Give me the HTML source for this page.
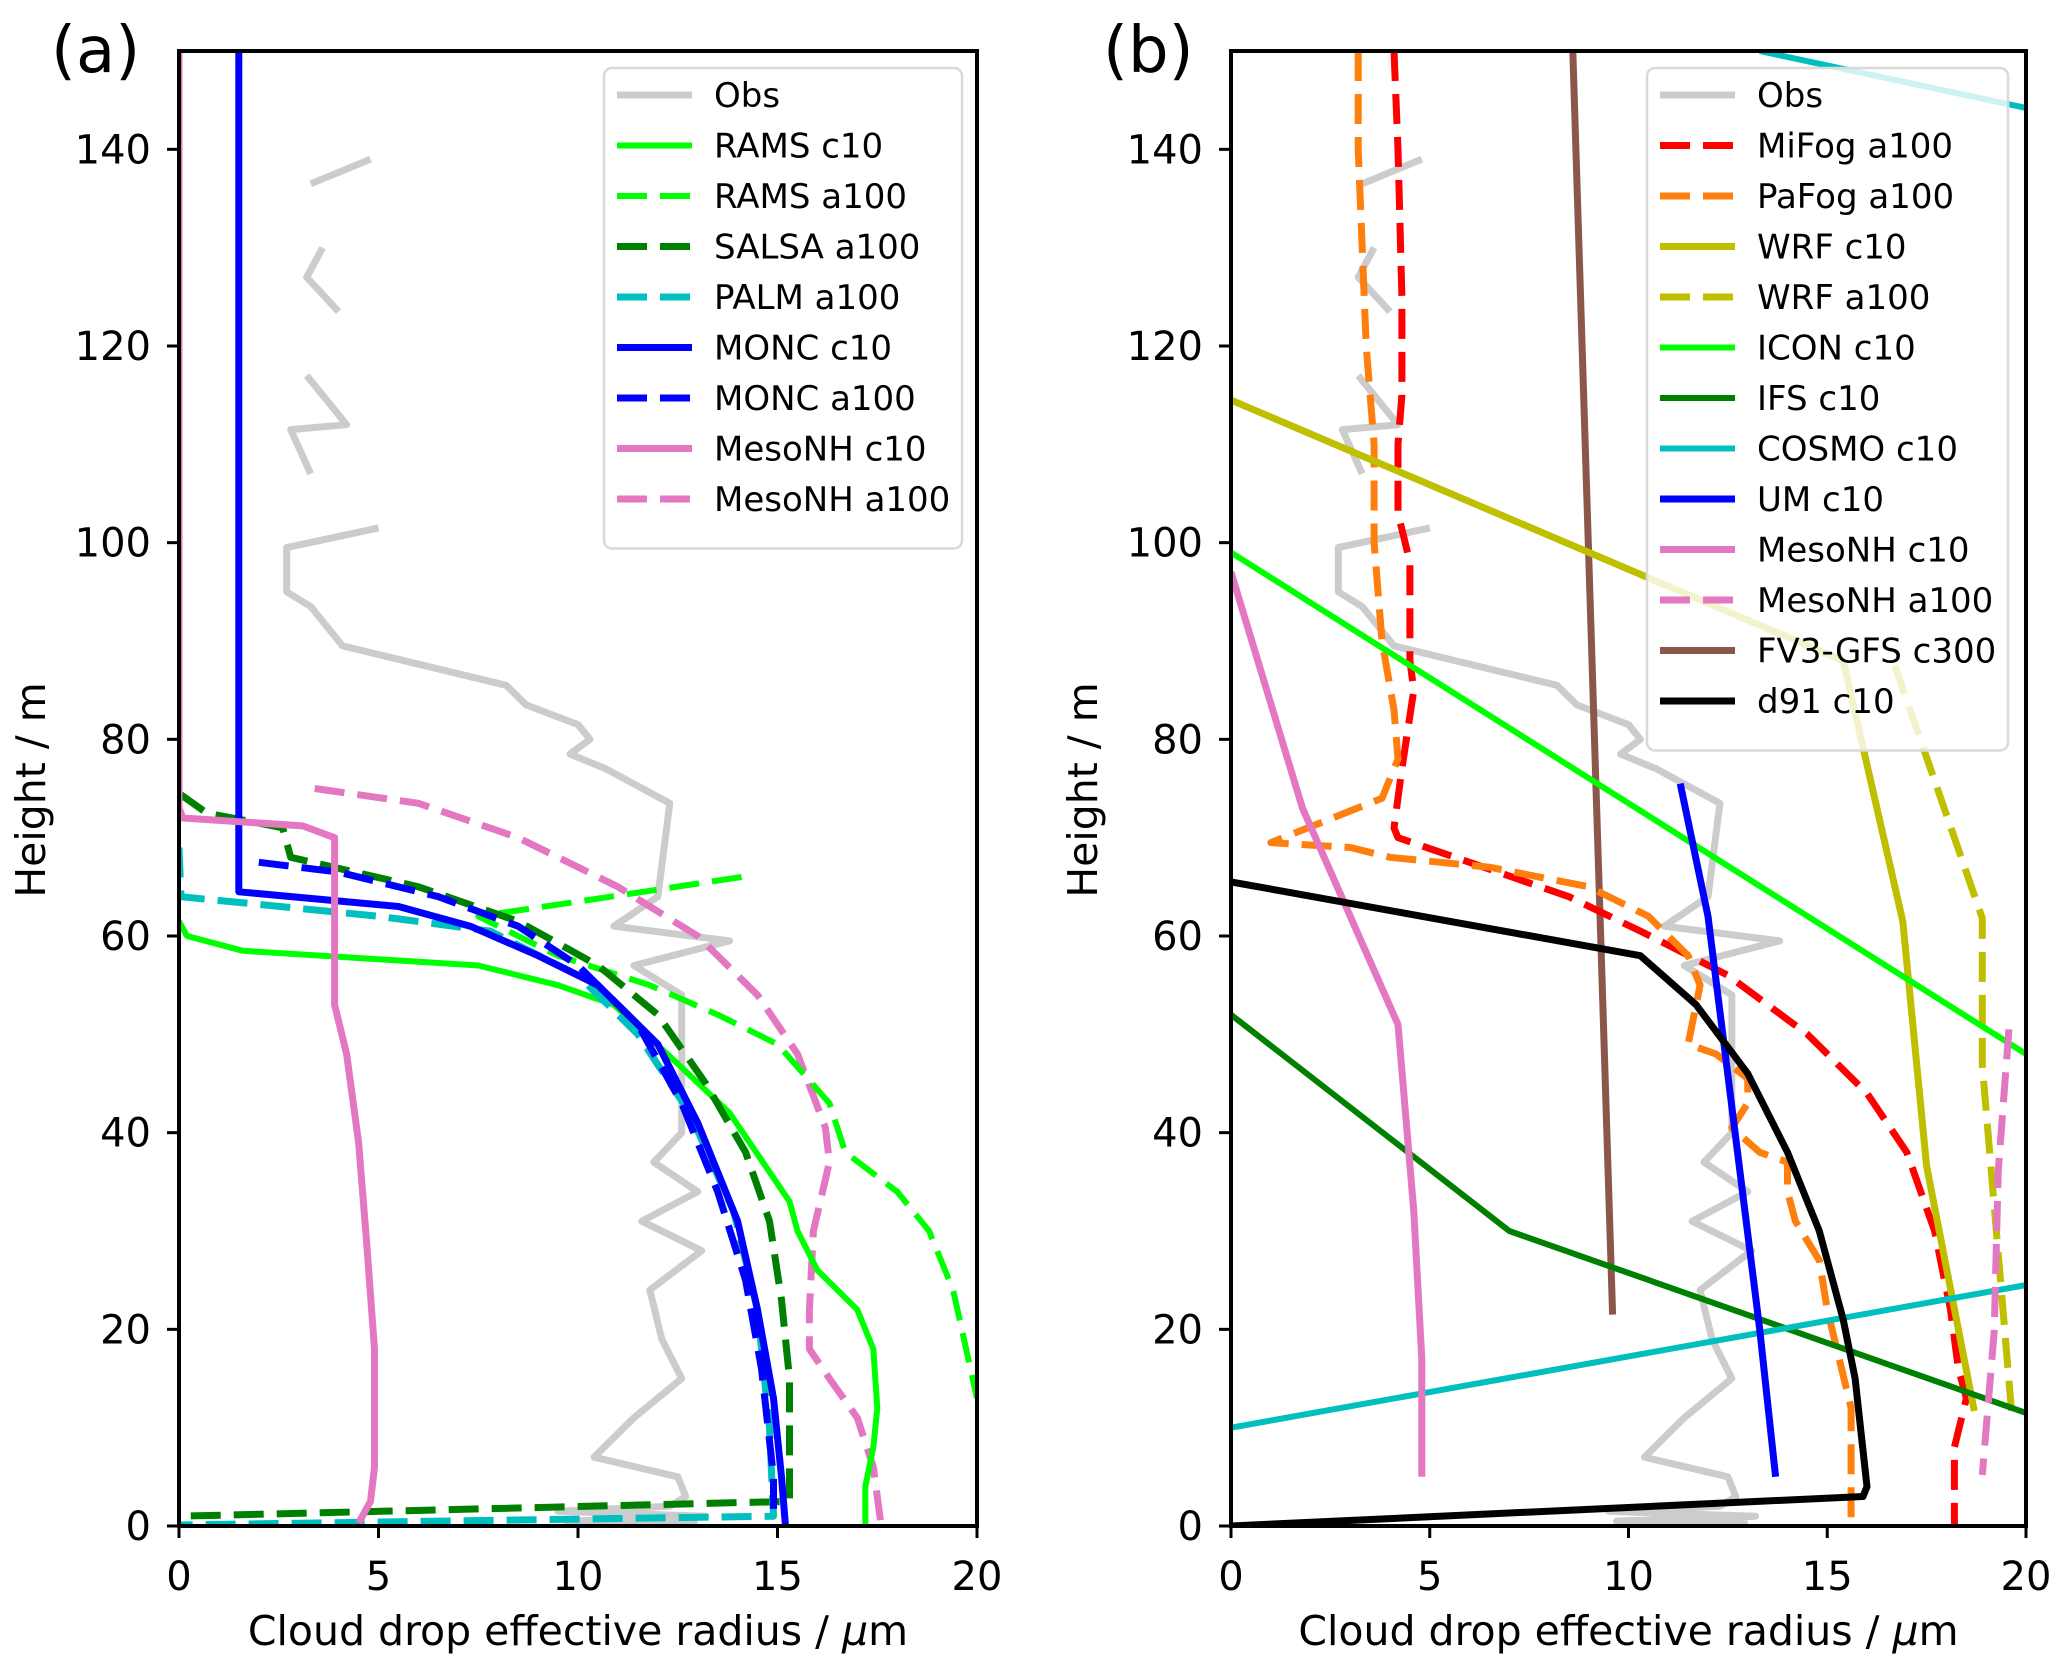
<!DOCTYPE html>
<html><head><meta charset="utf-8"><style>
html,body{margin:0;padding:0;background:#fff;}
svg{display:block;font-family:"DejaVu Sans","Liberation Sans",sans-serif;}
</style></head><body>
<svg id="chart" width="2067" height="1669" viewBox="0 0 2067 1669" xmlns="http://www.w3.org/2000/svg"></svg>
<script>
// ---- data ----
const xTicks=[0,5,10,15,20];
const yTicks=[0,20,40,60,80,100,120,140];
const obsX=[4.8,3.3,null,3.6,3.2,4.0,null,3.2,4.2,2.8,3.3,null,5.0,2.7,2.7,3.3,4.1,8.2,8.7,10.0,10.3,9.8,10.7,12.3,12.0,10.9,13.8,11.4,12.6,12.6,11.9,13.0,11.6,13.1,11.8,12.1,12.6,11.4,10.4,12.5,12.7,12.3,9.5,13.2,9.7,13.0];
const obsY=[139,136.5,null,130,127,123.5,null,117,112,111.5,107,null,101.5,99.5,95,93.5,89.5,85.5,83.5,81.5,80,78.5,77,73.5,64,61,59.5,57,54,40,37,34,31,28,24,19,15,11,7,5,3,2,1.5,1,0.5,0.2];
// panel a
const ramsC10X=[0,0.2,1.6,7.5,9.5,10.9,12.5,13.8,15.3,15.5,16,17,17.4,17.5,17.4,17.2,17.2];
const ramsC10Y=[61.5,60,58.5,57,55,53,47,42,33,30,26,22,18,12,8,4,0];
const ramsA100X=[14.1,10,7.5,9.5,11.8,13.5,15,16.3,16.7,18,18.8,19.4,20];
const ramsA100Y=[66,63.5,62,58,55,52,49,43,38,34,30,24,13];
const salsaX=[0,0.7,2.6,2.8,6,8.5,10.5,12,13.2,14.2,14.8,15.1,15.3,15.3,0];
const salsaY=[74.5,72.5,71,68,65,61.5,57,52,45,38,31,23,15,2.5,1];
const palmX=[0,0.05,5,7.8,10,11.5,12.8,13.9,14.5,14.8,14.9,0];
const palmY=[69,64,62,60.5,56,50,42,32,22,10,1,0.1];
const moncC10X=[1.5,1.5,5.5,7.3,9,10.5,12,13,14,14.5,14.9,15.1,15.2];
const moncC10Y=[150,64.5,63,61,58,55,49,41,31,22,13,5,0];
const moncA100X=[2,4,6.5,8.5,10,11.5,12.6,13.5,14.2,14.6,14.9,14.9];
const moncA100Y=[67.5,66.5,64,61,57,51,43,34,25,16,5,1];
const mesoAC10X=[0,0,0.1,3.1,3.9,3.9,4.2,4.5,4.7,4.9,4.9,4.8,4.5];
const mesoAC10Y=[150,73,72,71.2,70,53,48,39,29,18,6,2.5,0.3];
const mesoAA100X=[3.4,6,8.5,11,13,14.5,15.5,16.2,16.3,15.9,15.8,15.8,16.3,17,17.4,17.6];
const mesoAA100Y=[75,73.5,70,65,60,54,48,40.5,37,30,22,18,15,11,6,0];
// panel b
const mifogX=[4.1,4.2,4.3,4.3,4.2,4.2,4.5,4.5,4.6,4.3,4.1,4.2,6,8.5,10.3,12.5,14.5,16,17,17.7,18.1,18.3,18.5,18.2,18.2];
const mifogY=[150,140,125,115,110,103,98,88,85,77,71,70,67.5,64,60.5,56,50,44,38,30,22,16,13,8,0];
const pafogX=[3.2,3.2,3.4,3.6,3.6,3.8,4.1,4.2,3.8,1,3,4,6.5,9,10.5,11.5,11.8,11.5,12.2,13,13,12.6,13.3,14,14,14.2,14.8,15,15.3,15.6,15.6];
const pafogY=[150,140,120,110,100,90,83,78,74,69.5,69,68,67,65,62,58,55,49,48,45.5,43,40.5,38,37,34,31,27,22,17,12,0];
const wrfC10X=[0,15.4,16.9,17.5,18.7];
const wrfC10Y=[114.5,88,61.5,36.6,11.7];
const wrfA100X=[16.7,18.9,18.9,19.65];
const wrfA100Y=[87.5,61.8,46.9,11];
const iconX=[0,20];
const iconY=[99,48];
const ifsX=[0,7,20];
const ifsY=[52,30,11.5];
const cosmoX=[0,20];
const cosmoY=[10,24.5];
const cosmoTopX=[13.3,20];
const cosmoTopY=[150,144.2];
const umX=[11.3,12,13.3,13.7];
const umY=[75.5,62,20,5];
const mesoBC10X=[0,1.8,4.2,4.6,4.8,4.8];
const mesoBC10Y=[97,73,51,32,17,5];
const mesoBA100X=[19.57,19.3,19.2,18.9];
const mesoBA100Y=[50.5,36,19.8,5.2];
const fv3X=[8.6,9.6];
const fv3Y=[150,21.5];
const d91X=[0,10.3,11.7,13,14,14.8,15.4,15.7,16,15.9,0];
const d91Y=[65.5,58,53,46,38,30,21,15,4,3,0];
const legendA=["Obs","RAMS c10","RAMS a100","SALSA a100","PALM a100","MONC c10","MONC a100","MesoNH c10","MesoNH a100"];
const legendB=["Obs","MiFog a100","PaFog a100","WRF c10","WRF a100","ICON c10","IFS c10","COSMO c10","UM c10","MesoNH c10","MesoNH a100","FV3-GFS c300","d91 c10"];

// ---- rendering ----
const NS="http://www.w3.org/2000/svg";
const svg=document.getElementById('chart');
function el(tag,attrs,parent){const e=document.createElementNS(NS,tag);for(const k in attrs)e.setAttribute(k,attrs[k]);(parent||svg).appendChild(e);return e;}
const C={gray:"#cccccc",lime:"#00ff00",green:"#008000",cyan:"#00bfbf",blue:"#0000ff",pink:"#e377c2",red:"#ff0000",orange:"#ff7f0e",olive:"#bfbf00",brown:"#8c564b",black:"#000000"};
const DASH="30,13";
function makePanel(x0,x1,tag,label,series,legend,lgBox){
  const y0=1526,y1=51;
  const sx=v=>x0+(v/20)*(x1-x0);
  const sy=v=>y0-(v/150)*(y0-y1);
  const g=el('g',{});
  
  
  const clipId='clip'+tag;
  const cp=el('clipPath',{id:clipId},g);
  el('rect',{x:x0,y:y1,width:x1-x0,height:y0-y1},cp);
  const plot=el('g',{'clip-path':'url(#'+clipId+')'},g);
  series.forEach(s=>{
    let d="",pen=false;
    for(let i=0;i<s.x.length;i++){
      if(s.x[i]===null){pen=false;continue;}
      d+=(pen?"L":"M")+sx(s.x[i]).toFixed(1)+","+sy(s.y[i]).toFixed(1);pen=true;
    }
    const p=el('path',{d:d,fill:'none',stroke:s.c,'stroke-width':s.w||7,'stroke-linejoin':'round','stroke-dasharray':s.dash?DASH:'none',opacity:s.op||1},plot);
    
    
  });
  const ax=el('rect',{x:x0,y:y1,width:x1-x0,height:y0-y1,fill:'none',stroke:'#000','stroke-width':4},g);
  
  
  xTicks.forEach(t=>{
    el('line',{x1:sx(t),x2:sx(t),y1:y0,y2:y0+12,stroke:'#000','stroke-width':3},g);
    const tx=el('text',{x:sx(t),y:y0+64,'font-size':40,'text-anchor':'middle'},g);tx.textContent=t;
    
    
  });
  yTicks.forEach(t=>{
    el('line',{x1:x0-12,x2:x0,y1:sy(t),y2:sy(t),stroke:'#000','stroke-width':3},g);
    const tx=el('text',{x:x0-28,y:sy(t)+14,'font-size':40,'text-anchor':'end'},g);tx.textContent=t;
    
    
  });
  const xt=el('text',{x:(x0+x1)/2,y:1645,'font-size':41,'text-anchor':'middle'},g);
  xt.innerHTML='Cloud drop effective radius / <tspan font-style="italic">μ</tspan>m';
  
  
  const yt=el('text',{x:0,y:0,'font-size':41,'text-anchor':'middle',transform:'translate('+(x0-134)+',790) rotate(-90)'},g);
  yt.textContent='Height / m';
  
  
  const pl=el('text',{x:x0-128,y:72,'font-size':64},g);pl.textContent=label;
  
  
  const lg=el('g',{},g);
  
  
  el('rect',{x:lgBox[0],y:68,width:lgBox[1],height:legend.length*50.5+26,rx:8,fill:'rgba(255,255,255,0.8)',stroke:'#d9d9d9','stroke-width':2.5},lg);
  legend.forEach((name,i)=>{
    const s=series.find(q=>q.n===name);
    const yy=95+i*50.5;
    const e=el('g',{},lg);
    
    
    el('line',{x1:lgBox[0]+13,x2:lgBox[0]+88,y1:yy,y2:yy,stroke:s.c,'stroke-width':s.w||7,'stroke-dasharray':s.dash?DASH:'none'},e);
    const t=el('text',{x:lgBox[0]+110,y:yy+12,'font-size':34},e);t.textContent=name;
  });
}
makePanel(179,977,'a','(a)',[
 {n:"Obs",x:obsX,y:obsY,c:C.gray,w:7},
 {n:"MesoNH a100",x:mesoAA100X,y:mesoAA100Y,c:C.pink,dash:1},
 {n:"RAMS c10",x:ramsC10X,y:ramsC10Y,c:C.lime,w:6},
 {n:"RAMS a100",x:ramsA100X,y:ramsA100Y,c:C.lime,dash:1,w:6},
 {n:"SALSA a100",x:salsaX,y:salsaY,c:C.green,dash:1},
 {n:"PALM a100",x:palmX,y:palmY,c:C.cyan,dash:1},
 {n:"MONC c10",x:moncC10X,y:moncC10Y,c:C.blue},
 {n:"MONC a100",x:moncA100X,y:moncA100Y,c:C.blue,dash:1},
 {n:"MesoNH c10",x:mesoAC10X,y:mesoAC10Y,c:C.pink},
],legendA,[604,358]);
makePanel(1231,2026,'b','(b)',[
 {n:"Obs",x:obsX,y:obsY,c:C.gray,w:7},
 {n:"FV3-GFS c300",x:fv3X,y:fv3Y,c:C.brown},
 {n:"MiFog a100",x:mifogX,y:mifogY,c:C.red,dash:1},
 {n:"PaFog a100",x:pafogX,y:pafogY,c:C.orange,dash:1},
 {n:"WRF c10",x:wrfC10X,y:wrfC10Y,c:C.olive},
 {n:"WRF a100",x:wrfA100X,y:wrfA100Y,c:C.olive,dash:1},
 {n:"ICON c10",x:iconX,y:iconY,c:C.lime,w:6},
 {n:"IFS c10",x:ifsX,y:ifsY,c:C.green,w:6},
 {n:"COSMO c10",x:cosmoX,y:cosmoY,c:C.cyan,w:6},
 {n:"cosmo-top",x:cosmoTopX,y:cosmoTopY,c:C.cyan,w:6},
 {n:"UM c10",x:umX,y:umY,c:C.blue},
 {n:"MesoNH c10",x:mesoBC10X,y:mesoBC10Y,c:C.pink},
 {n:"MesoNH a100",x:mesoBA100X,y:mesoBA100Y,c:C.pink,dash:1},
 {n:"d91 c10",x:d91X,y:d91Y,c:C.black},
],legendB,[1647,361]);
</script>
</body></html>
